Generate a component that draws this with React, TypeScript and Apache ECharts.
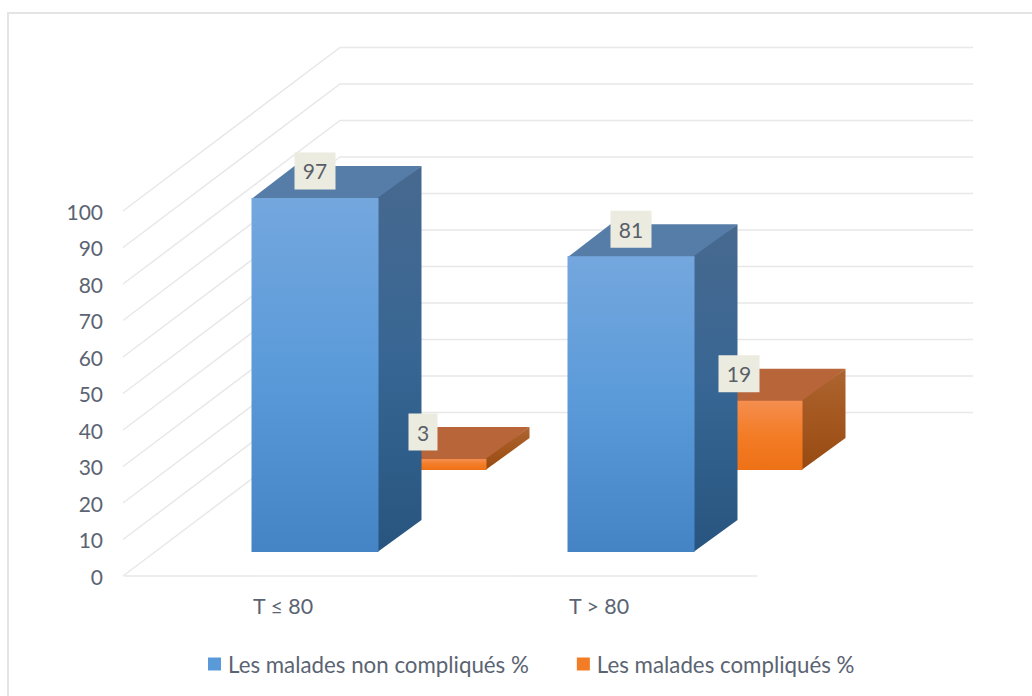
import React, { useEffect, useRef } from "react";
import * as echarts from "echarts";

const categories = ["T ≤ 80", "T > 80"];
const nonCompliques = [97, 81];
const compliques = [3, 19];
const yTicks = [0, 10, 20, 30, 40, 50, 60, 70, 80, 90, 100];
const seriesNames = ["Les malades non compliqués %", "Les malades compliqués %"];

const FONT = "Lato, 'Open Sans', sans-serif";
const TEXT = "#5b6472";
const GRID = "#e8e8e8";

const vgrad = (a: string, b: string, c: string) =>
  new echarts.graphic.LinearGradient(0, 0, 0, 1, [
    { offset: 0, color: a },
    { offset: 0.5, color: b },
    { offset: 1, color: c },
  ]);

const BLUE = {
  front: () => vgrad("#74a7de", "#5a9ad9", "#4484c5"),
  side: () => vgrad("#47698f", "#386694", "#27557f"),
  top: "#567ca8",
};
const ORANGE = {
  front: () => vgrad("#f58e4f", "#f37c26", "#ee7116"),
  side: () => vgrad("#ad6531", "#a4571f", "#974a10"),
  top: "#b8653a",
};

const BAR_W = 127;
const DEPTH_X = 43;
const DEPTH_Y = -32;

function box(api: any, shiftX: number, shiftY: number, c: any) {
  const base = api.coord([api.value(0), 0]);
  const top = api.coord([api.value(0), api.value(1)]);
  const cx = base[0] + shiftX;
  const l = cx - BAR_W / 2;
  const r = cx + BAR_W / 2;
  const b = base[1] + shiftY;
  const t = top[1] + shiftY;
  const poly = (points: number[][], fill: any) => ({
    type: "polygon",
    shape: { points },
    style: { fill },
    silent: true,
  });
  return {
    type: "group",
    children: [
      // top and side reach a pixel under the front face, so no seam shows what lies behind
      poly([[l, t + 1], [r, t + 1], [r + DEPTH_X, t + DEPTH_Y], [l + DEPTH_X, t + DEPTH_Y]], c.top),
      poly([[r - 1, t], [r + DEPTH_X, t + DEPTH_Y], [r + DEPTH_X, b + DEPTH_Y], [r - 1, b]], c.side()),
      poly([[l, t], [r, t], [r, b], [l, b]], c.front()),
    ],
  };
}

const BLUE_SHIFT = [32, -24];
const ORANGE_SHIFT = [140, -106];

function labelItem(api: any, shift: number[]) {
  const v = api.value(1);
  const pos = api.coord([api.value(0), v]);
  const cx = pos[0] + shift[0];
  const cy = pos[1] + shift[1] - 27;
  const w = String(v).length > 1 ? 41 : 29;
  return {
    type: "group",
    children: [
      { type: "rect", shape: { x: cx - w / 2, y: cy - 18.5, width: w, height: 37 }, style: { fill: "#ecebdf" } },
      {
        type: "text",
        style: {
          x: cx,
          y: cy,
          text: String(v),
          align: "center",
          verticalAlign: "middle",
          fill: "#595f68",
          font: `21px ${FONT}`,
        },
      },
    ],
  };
}

export default function App() {
  const ref = useRef<HTMLDivElement>(null);
  useEffect(() => {
    const chart = echarts.init(ref.current!, null, { renderer: "svg" });
    chart.setOption({
      animation: false,
      backgroundColor: "#ffffff",
      textStyle: { fontFamily: FONT },
      grid: { left: 125, top: 211, width: 632, height: 365 },
      xAxis: {
        type: "category",
        data: categories,
        axisTick: { show: false },
        axisLine: { show: true, lineStyle: { color: GRID, width: 1.5 } },
        axisLabel: { color: TEXT, fontSize: 21.4, fontFamily: FONT, margin: 19 },
      },
      yAxis: {
        type: "value",
        min: 0,
        max: 100,
        interval: 10,
        axisLine: { show: false },
        axisTick: { show: false },
        splitLine: { show: false },
        axisLabel: { color: TEXT, fontSize: 21, fontFamily: FONT, margin: 22 },
      },
      legend: {
        data: seriesNames,
        left: 203,
        top: 648,
        icon: "rect",
        itemWidth: 13,
        itemHeight: 13,
        itemGap: 48,
        textStyle: { color: TEXT, fontSize: 22.3, fontFamily: FONT, padding: [0, 0, 0, 2] },
      },
      graphic: [
        {
          type: "rect",
          silent: true,
          shape: { x: 8, y: 13, width: 1040, height: 700 },
          style: { fill: "none", stroke: "#e4e4e4", lineWidth: 2 },
        },
      ],
      series: [
        {
          type: "custom",
          name: "walls",
          z: 1,
          silent: true,
          data: yTicks.map((t) => [0, t]),
          renderItem: (params: any, api: any) => {
            const y = api.coord([0, api.value(1)])[1];
            const x0 = params.coordSys.x - 2;
            const bx = x0 + 217;
            const by = y - 163.5;
            return {
              type: "polyline",
              shape: { points: [[x0, y], [bx, by], [bx + 633, by]] },
              style: { fill: "none", stroke: GRID, lineWidth: 1.5 },
            };
          },
        },
        {
          type: "custom",
          name: seriesNames[1],
          z: 2,
          itemStyle: { color: "#f37c26" },
          data: compliques.map((v, i) => [i, v]),
          renderItem: (_: any, api: any) => box(api, ORANGE_SHIFT[0], ORANGE_SHIFT[1], ORANGE),
        },
        {
          type: "custom",
          name: seriesNames[0],
          z: 3,
          itemStyle: { color: "#5a9ad9" },
          data: nonCompliques.map((v, i) => [i, v]),
          renderItem: (_: any, api: any) => box(api, BLUE_SHIFT[0], BLUE_SHIFT[1], BLUE),
        },
        {
          type: "custom",
          name: "labels non",
          z: 4,
          silent: true,
          data: nonCompliques.map((v, i) => [i, v]),
          renderItem: (_: any, api: any) => labelItem(api, BLUE_SHIFT),
        },
        {
          type: "custom",
          name: "labels comp",
          z: 4,
          silent: true,
          data: compliques.map((v, i) => [i, v]),
          renderItem: (_: any, api: any) => labelItem(api, ORANGE_SHIFT),
        },
      ],
    });
    return () => chart.dispose();
  }, []);
  return <div ref={ref} style={{ position: "absolute", left: 0, top: 0, width: 1032, height: 696 }} />;
}
